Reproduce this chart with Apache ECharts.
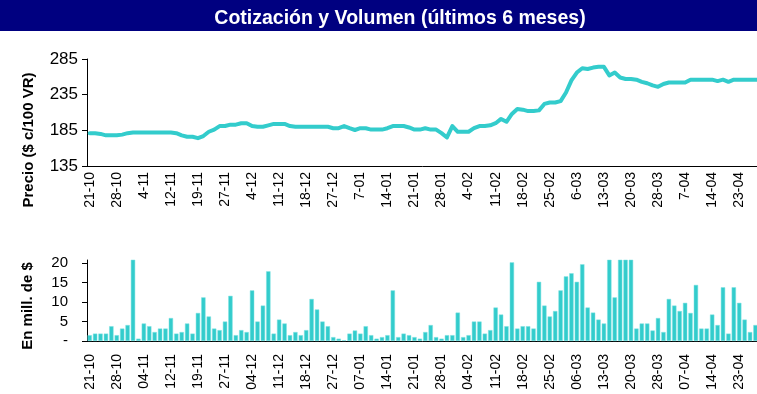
<!DOCTYPE html>
<html>
<head>
<meta charset="utf-8">
<script src="https://cdn.jsdelivr.net/npm/echarts@6/dist/echarts.min.js"></script>
<style>
  html, body { margin: 0; padding: 0; background: #ffffff; overflow: hidden; }
  #grafico { width: 757px; height: 394px; }
</style>
</head>
<body>
<div id="grafico"></div>
<script>
// Fechas rotuladas cada 5 ruedas
const etiquetas = [
  '21-10', '28-10', '04-11', '12-11', '19-11', '27-11', '04-12', '11-12', '18-12',
  '27-12', '07-01', '14-01', '21-01', '28-01', '04-02', '11-02', '18-02', '25-02',
  '06-03', '13-03', '20-03', '28-03', '07-04', '14-04', '23-04', '30-04'
];

// Cotización diaria ($ c/100 VR)
const precio = [
  181, 181, 180, 178, 178, 178, 179, 181, 182, 182,
  182, 182, 182, 182, 182, 182, 181, 178, 176, 176,
  174, 177, 183, 186, 191, 191, 193, 193, 195, 195,
  191, 190, 190, 192, 194, 194, 194, 191, 190, 190,
  190, 190, 190, 190, 190, 188, 188, 191, 188, 185.5,
  188, 188, 186, 186, 186, 188, 191, 191, 191, 189,
  186, 186, 188, 186, 186, 181, 175, 191, 183, 183,
  183, 188, 191, 191, 192, 195, 201, 197, 208, 215,
  214, 212, 212, 213, 222, 224, 224, 226, 238, 255,
  266, 272, 271, 273, 274, 274, 262, 266, 259, 257,
  257, 256, 253, 251, 248, 246, 250, 252, 252, 252,
  252, 256, 256, 256, 256, 256, 254, 256, 253, 256,
  256, 256, 256, 256, 256, 256
];

// Volumen diario (millones de $)
const volumen = [
  1.5, 1.9, 1.9, 1.9, 3.8, 1.5, 3.2, 4.1, 24, 0.6,
  4.5, 3.8, 2.3, 3.2, 3.2, 5.9, 1.9, 2.3, 4.5, 1.9,
  7.2, 11.2, 6.3, 3.2, 2.8, 5.0, 11.6, 1.5, 2.8, 2.3,
  13.0, 5.0, 9.1, 17.9, 1.9, 5.5, 4.5, 1.5, 2.3, 1.5,
  2.8, 10.8, 8.1, 5.0, 3.8, 1.0, 0.6, 0.2, 1.9, 2.7,
  1.9, 3.8, 1.5, 0.6, 1.0, 1.5, 13.0, 1.0, 1.9, 1.5,
  1.0, 0.6, 2.3, 4.1, 1.0, 0.6, 1.5, 1.5, 7.3, 1.0,
  1.5, 5.0, 5.0, 1.9, 2.8, 8.6, 6.8, 3.8, 20.2, 3.2,
  3.8, 3.8, 3.2, 15.2, 9.1, 6.3, 7.7, 13.0, 16.6, 17.4,
  15.2, 19.7, 8.6, 7.3, 5.5, 4.5, 26, 11.2, 30, 28,
  25, 3.2, 4.5, 4.5, 2.7, 5.9, 2.3, 10.8, 9.1, 7.7,
  9.8, 7.2, 14.4, 3.2, 3.2, 6.8, 4.1, 13.8, 1.9, 13.8,
  9.8, 5.5, 2.3, 4.1, 5.5, 3.0
];

const marcasVolumen = [0, 5, 10, 15, 20];

const ruedas = precio.map((_, i) => i);
const rotulo = (i) => (i % 5 === 0 ? etiquetas[i / 5] : '');

const TURQUESA = '#33CCCC';
const FUENTE = '"Liberation Sans", Arial, sans-serif';

const chart = echarts.init(document.getElementById('grafico'), null, { renderer: 'canvas' });

chart.setOption({
  animation: false,
  backgroundColor: '#ffffff',
  title: {
    text: 'Cotización y Volumen (últimos 6 meses)',
    left: 395,
    top: 4,
    textAlign: 'center',
    textStyle: { color: '#ffffff', fontSize: 19.5, fontWeight: 'bold', fontFamily: FUENTE }
  },
  graphic: [
    {
      type: 'rect', z: -1, silent: true,
      shape: { x: 0, y: 0, width: 757, height: 31 },
      style: { fill: '#000080' }
    },
    {
      type: 'text', silent: true,
      x: 29, y: 140, rotation: Math.PI / 2,
      style: {
        text: 'Precio ($ c/100 VR)', fill: '#000000',
        font: 'bold 15px ' + FUENTE, align: 'center', verticalAlign: 'middle'
      }
    },
    {
      type: 'text', silent: true,
      x: 28, y: 306, rotation: Math.PI / 2,
      style: {
        text: 'En mill. de $', fill: '#000000',
        font: 'bold 15px ' + FUENTE, align: 'center', verticalAlign: 'middle'
      }
    }
  ],
  // the plot area runs a little past the right edge of the canvas
  grid: [
    { left: 87, top: 59, height: 107, width: 682, outerBoundsMode: 'none', containLabel: false },
    { left: 87, top: 260, height: 81, width: 682, outerBoundsMode: 'none', containLabel: false }
  ],
  xAxis: [
    {
      type: 'category', gridIndex: 0, data: ruedas, boundaryGap: true,
      axisLine: { lineStyle: { color: '#000000', width: 1 } },
      axisTick: { show: false },
      axisLabel: {
        interval: 4, rotate: 90, margin: 6, color: '#000000', fontSize: 14, fontFamily: FUENTE,
        formatter: (v) => rotulo(Number(v)).replace(/^0/, '')
      },
      splitLine: { show: false }
    },
    {
      type: 'category', gridIndex: 1, data: ruedas, boundaryGap: true,
      axisLine: { lineStyle: { color: '#000000', width: 1 } },
      axisTick: { show: false },
      axisLabel: {
        interval: 4, rotate: 90, margin: 13, color: '#000000', fontSize: 14, fontFamily: FUENTE,
        formatter: (v) => rotulo(Number(v))
      },
      splitLine: { show: false }
    }
  ],
  yAxis: [
    {
      type: 'value', gridIndex: 0, min: 135, max: 285, interval: 50,
      axisLine: { show: true, lineStyle: { color: '#000000', width: 1 } },
      axisTick: { show: true, length: 5, lineStyle: { color: '#000000' } },
      axisLabel: { margin: 9, color: '#000000', fontSize: 17, fontFamily: FUENTE },
      splitLine: { show: false }
    },
    {
      type: 'value', gridIndex: 1, min: 0, max: 20.8,
      axisLine: { show: true, lineStyle: { color: '#000000', width: 1 } },
      axisTick: { show: true, length: 5, customValues: marcasVolumen, lineStyle: { color: '#000000' } },
      axisLabel: {
        margin: 19, color: '#000000', fontSize: 15, fontFamily: FUENTE,
        customValues: marcasVolumen,
        formatter: (v) => (v === 0 ? '-' : String(v))
      },
      splitLine: { show: false }
    }
  ],
  series: [
    {
      name: 'Precio', type: 'line', xAxisIndex: 0, yAxisIndex: 0,
      data: precio, showSymbol: false, symbol: 'none',
      lineStyle: { color: TURQUESA, width: 4, cap: 'round', join: 'round' },
      clip: true
    },
    {
      name: 'Volumen', type: 'bar', xAxisIndex: 1, yAxisIndex: 1,
      data: volumen, barCategoryGap: '20%',
      itemStyle: { color: TURQUESA, borderColor: '#7fe3e3', borderWidth: 0.5 },
      clip: true
    }
  ]
});
</script>
</body>
</html>
